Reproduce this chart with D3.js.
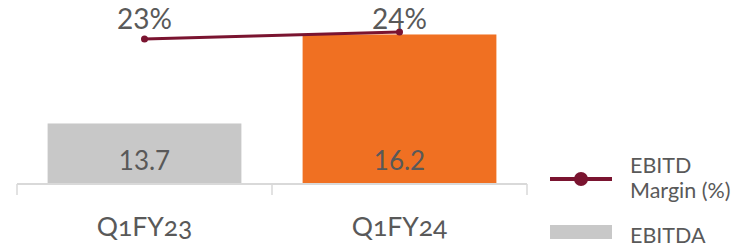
<!DOCTYPE html>
<html>
<head>
<meta charset="utf-8">
<script src="https://cdn.jsdelivr.net/npm/d3@7"></script>
<style>
  body { margin: 0; background: #fff; }
  text { font-family: Lato, "Open Sans", sans-serif; fill: #595959; }
</style>
</head>
<body>
<div id="chart"></div>
<script>
var quarters = ["Q1FY23", "Q1FY24"];
var ebitda = [13.7, 16.2];
var margin = [23.0, 24.1];
var marginLabels = ["23%", "24%"];
var barColors = ["#c8c8c8", "#f07022"];

var width = 738, height = 249;
var svg = d3.select("#chart").append("svg")
  .attr("width", width).attr("height", height);

var x = d3.scaleBand().domain(quarters).range([17, 527]).paddingInner(0.24).paddingOuter(0.12);
var y = d3.scaleLinear().domain([12, 17]).range([184, 6]);
var y2 = d3.scaleLinear().domain([0, 28.24]).range([184, 6]);

// bars
svg.selectAll(".bar").data(quarters).enter().append("rect")
  .attr("x", function (d) { return x(d); })
  .attr("y", function (d, i) { return y(ebitda[i]); })
  .attr("width", x.bandwidth())
  .attr("height", function (d, i) { return y(12) - y(ebitda[i]); })
  .attr("fill", function (d, i) { return barColors[i]; });

svg.selectAll(".barlabel").data(quarters).enter().append("text")
  .attr("x", function (d) { return x(d) + x.bandwidth() / 2; })
  .attr("y", 170)
  .attr("text-anchor", "middle")
  .style("font-size", "26px")
  .text(function (d, i) { return ebitda[i].toFixed(1); });

// axis
var axis = svg.append("g").attr("transform", "translate(0,184)")
  .call(d3.axisBottom(x).tickSize(0).tickPadding(33));
axis.select(".domain").attr("stroke", "#d9d9d9").attr("stroke-width", 2)
  .attr("d", "M17,0H527");
axis.selectAll(".tick text").style("font-size", "26.5px").attr("fill", "#595959")
  .style("font-family", "Lato, sans-serif")
  .style("font-variant-numeric", "oldstyle-nums");
svg.selectAll(".sep").data([0, 1, 2]).enter().append("line")
  .attr("x1", function (i) { return 17 + i * (510 / quarters.length); })
  .attr("x2", function (i) { return 17 + i * (510 / quarters.length); })
  .attr("y1", 184).attr("y2", 195)
  .attr("stroke", "#d9d9d9").attr("stroke-width", 1.5);

// margin line
var cx = function (d) { return x(d) + x.bandwidth() / 2; };
svg.append("path").datum(quarters)
  .attr("fill", "none").attr("stroke", "#7a1430").attr("stroke-width", 3)
  .attr("d", d3.line().x(cx).y(function (d, i) { return y2(margin[i]); }));
svg.selectAll(".pt").data(quarters).enter().append("circle")
  .attr("cx", cx).attr("cy", function (d, i) { return y2(margin[i]); })
  .attr("r", 3.5).attr("fill", "#7a1430");
var labelY = y2(d3.max(margin)) - 3;
svg.selectAll(".mlabel").data(quarters).enter().append("text")
  .attr("x", cx).attr("y", labelY)
  .attr("text-anchor", "middle")
  .style("font-size", "28px")
  .text(function (d, i) { return marginLabels[i]; });

// legend
var lg = svg.append("g");
lg.append("line").attr("x1", 550).attr("x2", 612).attr("y1", 179).attr("y2", 179)
  .attr("stroke", "#7a1430").attr("stroke-width", 4);
lg.append("circle").attr("cx", 581).attr("cy", 179).attr("r", 7).attr("fill", "#7a1430");
lg.append("text").attr("x", 630).attr("y", 173).style("font-size", "21.5px").text("EBITD");
lg.append("text").attr("x", 630).attr("y", 198).style("font-size", "21.5px").text("Margin (%)");
lg.append("rect").attr("x", 550).attr("y", 225).attr("width", 62).attr("height", 14).attr("fill", "#c8c8c8");
lg.append("text").attr("x", 630).attr("y", 243).style("font-size", "21.5px").text("EBITDA");
</script>
</body>
</html>
